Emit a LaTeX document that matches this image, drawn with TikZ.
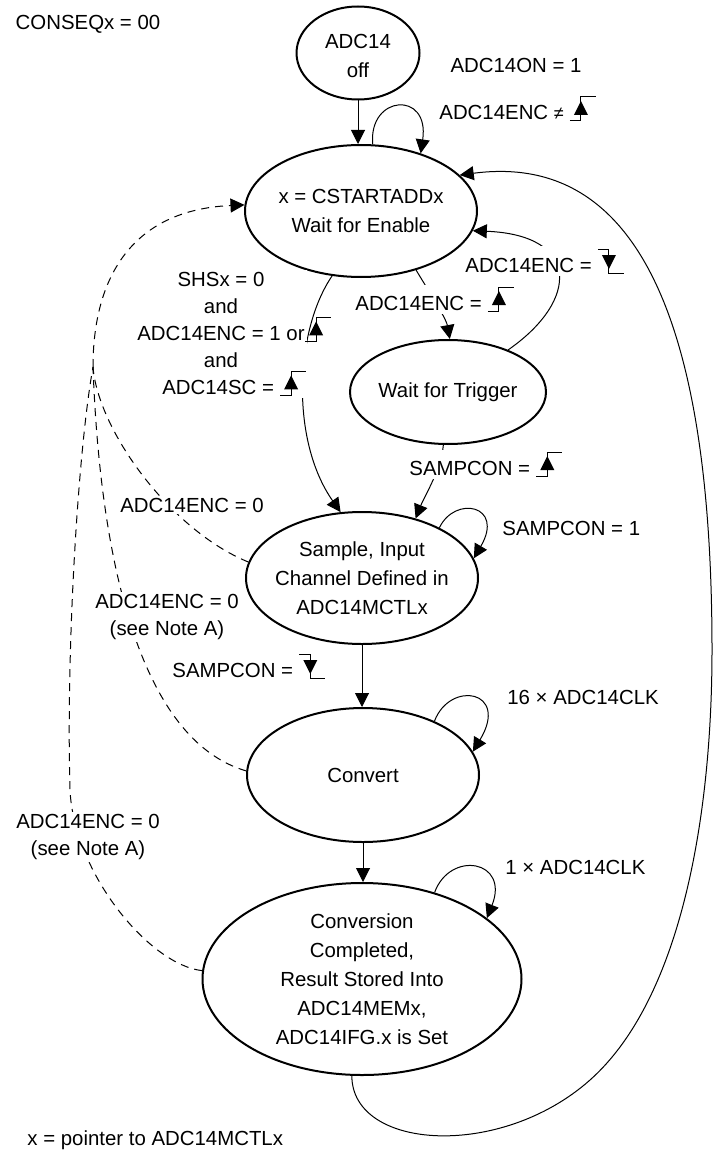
\documentclass[tikz,border=0pt]{standalone}
\usepackage{fontspec}
\setmainfont{Liberation Sans}
\usepackage{tikz}
\usetikzlibrary{arrows.meta,shapes.geometric}
\definecolor{adcline}{RGB}{0,0,0}
\tikzset{
  adcState/.style={draw=adcline, ellipse, line width=1pt, inner sep=-5pt,
                   align=center, font=\fontsize{10.2}{14.5}\selectfont},
  adcArrow/.style={-{Triangle[length=7pt,width=7pt]}, line width=0.5pt,
                   draw=adcline},
  adcDash/.style={line width=0.5pt, draw=adcline, dash pattern=on 4pt off 3pt},
  adcLabel/.style={align=center, inner sep=1pt,
                   font=\fontsize{10.2}{13.5}\selectfont},
  adcMask/.style={adcLabel, fill=white}
}
\newcommand{\adcRise}{\tikz[baseline=0pt]{%
  \draw[adcline, line width=0.5pt] (0pt,-0.5pt) -- (5.5pt,-0.5pt) -- (5.5pt,11.5pt) -- (13pt,11.5pt);
  \fill[adcline] (5.5pt,9.5pt) -- (2pt,2.5pt) -- (9pt,2.5pt) -- cycle;}}
\newcommand{\adcFall}{\tikz[baseline=0pt]{%
  \draw[adcline, line width=0.5pt] (0pt,11.5pt) -- (5.5pt,11.5pt) -- (5.5pt,-0.5pt) -- (13pt,-0.5pt);
  \fill[adcline] (5.5pt,1.5pt) -- (2pt,8.5pt) -- (9pt,8.5pt) -- cycle;}}

\begin{document}
\begin{tikzpicture}[x=0.5pt,y=-0.5pt]
  \useasboundingbox (0,0) rectangle (717,1150);

  % states
  \node[adcState, minimum width=61.5pt, minimum height=46.5pt] (off) at (358,53) {\mbox{}\\[-4pt]ADC14\\off};
  \node[adcState, minimum width=116pt, minimum height=66pt] (en) at (361,211) {x = CSTARTADDx\\Wait for Enable};
  \node[adcState, minimum width=98pt, minimum height=52pt] (tg) at (448,392) {Wait for Trigger};
  \node[adcState, minimum width=116pt, minimum height=66pt] (sm) at (362,578) {Sample, Input\\Channel Defined in\\ADC14MCTLx};
  \node[adcState, minimum width=116pt, minimum height=67pt] (cv) at (363,775) {Convert};
  \node[adcState, minimum width=159.5pt, minimum height=96pt] (cc) at (362,979) {Conversion\\Completed,\\Result Stored Into\\ADC14MEMx,\\ADC14IFG.x is Set};
  \coordinate (dj) at (93,367);

  % transitions
  \draw[adcArrow] (off.south) -- (off.south |- en.north);
  \draw[adcArrow] (en.80) .. controls (368,95) and (430,90) .. (en.44);
  \draw[adcArrow] (en.-47) .. controls (428,290) and (446,318) .. (tg.88);
  \draw[adcArrow] (tg.35) .. controls (580,300) and (580,235) .. (en.-10);
  \draw[adcArrow] (en.-114) .. controls (295,330) and (290,440) .. (sm.108);
  \draw[adcArrow] (tg.-95) .. controls (441,470) and (425,495) .. (sm.48);
  \draw[adcArrow] (sm.33) .. controls (455,495) and (505,505) .. (sm.10);
  \draw[adcArrow] (sm.south) -- (sm.south |- cv.north);
  \draw[adcArrow] (cv.37) .. controls (450,680) and (510,690) .. (cv.12);
  \draw[adcArrow] (cv.south) -- (cv.south |- cc.north);
  \draw[adcArrow] (cc.50) .. controls (450,850) and (510,860) .. (cc.26);
  \draw[adcArrow] (cc.-96) .. controls (352,1150) and (500,1160) .. (590,1080)
    .. controls (680,1000) and (712,820) .. (712,650)
    .. controls (712,350) and (650,150) .. (en.20);

  % ADC14ENC = 0 returns
  \draw[adcDash] (sm.172) .. controls (170,530) and (98,430) .. (dj);
  \draw[adcDash] (cv.178) .. controls (140,740) and (100,560) .. (dj);
  \draw[adcDash] (cc.177) .. controls (150,965) and (74,874) .. (70,790)
    .. controls (66,650) and (78,450) .. (dj);
  \draw[adcDash, -{Triangle[length=7pt,width=7pt]}] (dj) .. controls (93,280) and (130,210) .. (en.177);

  % labels
  \node[adcLabel] (lblConseq) at (88,24) {CONSEQx = 00};
  \node[adcLabel] (lblOn) at (516,65) {ADC14ON = 1};
  \node[adcLabel, anchor=base west] (lblHold) at (437,120) {ADC14ENC\ {\small ≠}\ \adcRise};
  \node[adcMask, anchor=base west] (lblStop) at (463,272) {ADC14ENC = \adcFall};
  \node[adcMask, anchor=base west] (lblArm) at (353,310) {ADC14ENC = \adcRise};
  \node[adcMask] (lblShs) at (221,334) {SHSx = 0\\and\\ADC14ENC = 1 or\rlap{\adcRise}\\and\\ADC14SC = \rlap{\adcRise}};
  \node[adcMask, anchor=base west] (lblTrig) at (407,475) {SAMPCON = \adcRise};
  \node[adcLabel, anchor=base west] (lblHigh) at (500,535) {SAMPCON = 1};
  \node[adcMask] (lblOffA) at (192,505) {ADC14ENC = 0};
  \node[adcMask] (lblOffB) at (167,617) {ADC14ENC = 0\\(see Note A)};
  \node[adcLabel, anchor=base west] (lblFall) at (170,677) {SAMPCON = \adcFall};
  \node[adcLabel, anchor=base west] (lblConv) at (505,704) {16 × ADC14CLK};
  \node[adcLabel, anchor=base west] (lblDone) at (503,874) {1 × ADC14CLK};
  \node[adcMask] (lblOffC) at (88,837) {ADC14ENC = 0\\(see Note A)};
  \node[adcLabel, anchor=base west] (lblNote) at (25,1145) {x = pointer to ADC14MCTLx};
\end{tikzpicture}
\end{document}
